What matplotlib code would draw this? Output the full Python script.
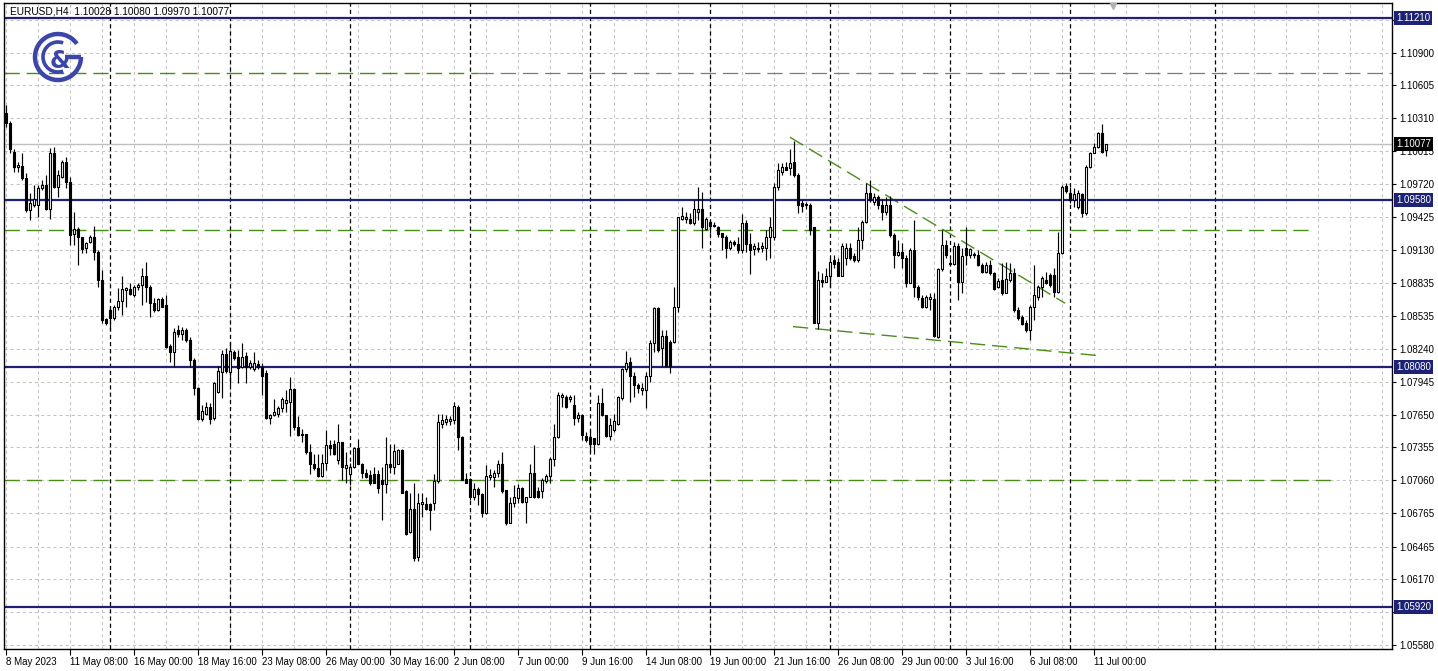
import matplotlib
matplotlib.use("Agg")
import matplotlib.pyplot as plt
from matplotlib.patches import Rectangle, Arc
from matplotlib.collections import LineCollection, PatchCollection
import matplotlib.transforms as mtransforms

plt.rcParams['lines.scale_dashes'] = False
plt.rcParams['font.family'] = ['Liberation Sans', 'DejaVu Sans']

symbol = "EURUSD,H4"
header_values = "1.10028 1.10080 1.09970 1.10077"

opens = [
    1.1036, 1.1027, 1.1001, 1.0987, 1.0988, 1.0977, 1.0949, 1.0953, 1.0953, 1.0968,
    1.0971, 1.0950, 1.1000, 1.0969, 1.0978, 1.0992, 1.0974, 1.0927, 1.0932, 1.0924,
    1.0915, 1.0920, 1.0924, 1.0911, 1.0886, 1.0851, 1.0859, 1.0852, 1.0862, 1.0867,
    1.0877, 1.0878, 1.0872, 1.0880, 1.0881, 1.0889, 1.0880, 1.0865, 1.0859, 1.0869,
    1.0863, 1.0827, 1.0821, 1.0841, 1.0837, 1.0841, 1.0832, 1.0814, 1.0789, 1.0761,
    1.0766, 1.0772, 1.0762, 1.0785, 1.0803, 1.0819, 1.0803, 1.0821, 1.0817, 1.0808,
    1.0818, 1.0808, 1.0806, 1.0810, 1.0808, 1.0802, 1.0762, 1.0765, 1.0766, 1.0771,
    1.0775, 1.0776, 1.0788, 1.0754, 1.0748, 1.0748, 1.0731, 1.0721, 1.0717, 1.0710,
    1.0722, 1.0738, 1.0739, 1.0724, 1.0740, 1.0717, 1.0712, 1.0718, 1.0735, 1.0721,
    1.0713, 1.0711, 1.0712, 1.0712, 1.0706, 1.0703, 1.0721, 1.0718, 1.0721, 1.0733,
    1.0696, 1.0660, 1.0680, 1.0637, 1.0685, 1.0685, 1.0685, 1.0686, 1.0705, 1.0757,
    1.0758, 1.0759, 1.0760, 1.0772, 1.0745, 1.0707, 1.0707, 1.0691, 1.0698, 1.0694,
    1.0677, 1.0709, 1.0709, 1.0713, 1.0721, 1.0697, 1.0668, 1.0686, 1.0690, 1.0699,
    1.0687, 1.0691, 1.0713, 1.0696, 1.0696, 1.0705, 1.0710, 1.0725, 1.0745, 1.0781,
    1.0781, 1.0779, 1.0774, 1.0762, 1.0765, 1.0746, 1.0745, 1.0744, 1.0739, 1.0775,
    1.0765, 1.0746, 1.0751, 1.0757, 1.0780, 1.0806, 1.0812, 1.0800, 1.0792, 1.0787,
    1.0787, 1.0800, 1.0829, 1.0861, 1.0825, 1.0836, 1.0830, 1.0830, 1.0862, 1.0941,
    1.0941, 1.0941, 1.0937, 1.0947, 1.0950, 1.0932, 1.0938, 1.0935, 1.0933, 1.0928,
    1.0924, 1.0915, 1.0920, 1.0918, 1.0913, 1.0937, 1.0918, 1.0914, 1.0914, 1.0915,
    1.0915, 1.0924, 1.0924, 1.0969, 1.0983, 1.0987, 1.0986, 1.0992, 1.0980, 1.0955,
    1.0954, 1.0953, 1.0933, 1.0847, 1.0886, 1.0884, 1.0889, 1.0904, 1.0902, 1.0889,
    1.0906, 1.0915, 1.0907, 1.0904, 1.0922, 1.0938, 1.0964, 1.0956, 1.0960, 1.0953,
    1.0947, 1.0953, 1.0926, 1.0908, 1.0911, 1.0906, 1.0883, 1.0913, 1.0880, 1.0870,
    1.0862, 1.0869, 1.0869, 1.0835, 1.0896, 1.0917, 1.0901, 1.0900, 1.0916, 1.0884,
    1.0915, 1.0908, 1.0909, 1.0908, 1.0899, 1.0893, 1.0899, 1.0892, 1.0880, 1.0886,
    1.0874, 1.0886, 1.0892, 1.0859, 1.0853, 1.0847, 1.0841, 1.0862, 1.0871, 1.0880,
    1.0886, 1.0890, 1.0890, 1.0875, 1.0910, 1.0970, 1.0964, 1.0958, 1.0951, 1.0963,
    1.0946, 1.0987, 1.1000, 1.1005, 1.1018, 1.10028,
]
highs = [
    1.1043, 1.1029, 1.1003, 1.0992, 1.1000, 1.0982, 1.0964, 1.0971, 1.0971, 1.0976,
    1.0980, 1.1004, 1.1005, 1.0985, 1.0994, 1.0996, 1.0978, 1.0947, 1.0933, 1.0924,
    1.0920, 1.0926, 1.0934, 1.0913, 1.0895, 1.0852, 1.0861, 1.0863, 1.0879, 1.0889,
    1.0880, 1.0883, 1.0881, 1.0883, 1.0897, 1.0902, 1.0881, 1.0870, 1.0870, 1.0871,
    1.0872, 1.0828, 1.0843, 1.0845, 1.0844, 1.0843, 1.0835, 1.0816, 1.0790, 1.0774,
    1.0776, 1.0775, 1.0794, 1.0809, 1.0823, 1.0825, 1.0830, 1.0823, 1.0823, 1.0829,
    1.0821, 1.0814, 1.0821, 1.0814, 1.0811, 1.0805, 1.0766, 1.0779, 1.0773, 1.0781,
    1.0787, 1.0799, 1.0789, 1.0764, 1.0752, 1.0748, 1.0739, 1.0730, 1.0730, 1.0730,
    1.0751, 1.0742, 1.0742, 1.0757, 1.0740, 1.0731, 1.0722, 1.0736, 1.0743, 1.0722,
    1.0716, 1.0715, 1.0718, 1.0715, 1.0718, 1.0745, 1.0739, 1.0739, 1.0734, 1.0734,
    1.0697, 1.0695, 1.0704, 1.0695, 1.0695, 1.0691, 1.0686, 1.0712, 1.0766, 1.0766,
    1.0765, 1.0764, 1.0776, 1.0774, 1.0746, 1.0713, 1.0708, 1.0704, 1.0700, 1.0695,
    1.0720, 1.0716, 1.0715, 1.0724, 1.0731, 1.0697, 1.0691, 1.0702, 1.0703, 1.0700,
    1.0691, 1.0721, 1.0738, 1.0700, 1.0708, 1.0712, 1.0727, 1.0757, 1.0785, 1.0784,
    1.0783, 1.0783, 1.0783, 1.0767, 1.0766, 1.0749, 1.0751, 1.0744, 1.0783, 1.0789,
    1.0765, 1.0762, 1.0766, 1.0782, 1.0807, 1.0822, 1.0817, 1.0803, 1.0793, 1.0793,
    1.0803, 1.0832, 1.0862, 1.0862, 1.0841, 1.0841, 1.0832, 1.0880, 1.0942, 1.0951,
    1.0947, 1.0946, 1.0958, 1.0969, 1.0965, 1.0942, 1.0940, 1.0938, 1.0934, 1.0928,
    1.0926, 1.0922, 1.0922, 1.0924, 1.0945, 1.0940, 1.0928, 1.0919, 1.0920, 1.0920,
    1.0931, 1.0942, 1.0973, 1.0991, 1.0991, 1.0992, 1.1003, 1.1011, 1.0982, 1.0958,
    1.0956, 1.0955, 1.0933, 1.0894, 1.0892, 1.0897, 1.0906, 1.0908, 1.0906, 1.0919,
    1.0919, 1.0919, 1.0910, 1.0933, 1.0940, 1.0973, 1.0976, 1.0964, 1.0962, 1.0959,
    1.0960, 1.0961, 1.0928, 1.0922, 1.0919, 1.0908, 1.0915, 1.0940, 1.0881, 1.0872,
    1.0872, 1.0874, 1.0874, 1.0897, 1.0931, 1.0922, 1.0905, 1.0920, 1.0919, 1.0915,
    1.0933, 1.0915, 1.0911, 1.0913, 1.0901, 1.0902, 1.0904, 1.0893, 1.0888, 1.0901,
    1.0902, 1.0901, 1.0897, 1.0862, 1.0854, 1.0850, 1.0863, 1.0899, 1.0881, 1.0889,
    1.0893, 1.0892, 1.0897, 1.0929, 1.0971, 1.0973, 1.0969, 1.0968, 1.0967, 1.0964,
    1.0989, 1.1001, 1.1009, 1.1019, 1.1026, 1.10080,
]
lows = [
    1.1023, 1.1000, 1.0983, 1.0983, 1.0976, 1.0947, 1.0940, 1.0951, 1.0942, 1.0967,
    1.0949, 1.0941, 1.0968, 1.0960, 1.0977, 1.0968, 1.0917, 1.0917, 1.0899, 1.0910,
    1.0910, 1.0919, 1.0904, 1.0880, 1.0847, 1.0845, 1.0841, 1.0850, 1.0859, 1.0854,
    1.0862, 1.0872, 1.0871, 1.0877, 1.0863, 1.0866, 1.0853, 1.0857, 1.0858, 1.0862,
    1.0825, 1.0812, 1.0808, 1.0835, 1.0832, 1.0830, 1.0808, 1.0783, 1.0760, 1.0759,
    1.0765, 1.0757, 1.0760, 1.0784, 1.0780, 1.0802, 1.0792, 1.0814, 1.0793, 1.0807,
    1.0793, 1.0806, 1.0804, 1.0806, 1.0783, 1.0761, 1.0757, 1.0764, 1.0763, 1.0767,
    1.0767, 1.0746, 1.0751, 1.0746, 1.0740, 1.0730, 1.0712, 1.0715, 1.0709, 1.0709,
    1.0715, 1.0729, 1.0729, 1.0721, 1.0706, 1.0704, 1.0702, 1.0717, 1.0721, 1.0708,
    1.0708, 1.0702, 1.0704, 1.0695, 1.0670, 1.0695, 1.0713, 1.0712, 1.0721, 1.0695,
    1.0657, 1.0659, 1.0634, 1.0634, 1.0673, 1.0679, 1.0661, 1.0679, 1.0704, 1.0753,
    1.0756, 1.0756, 1.0757, 1.0733, 1.0706, 1.0704, 1.0688, 1.0688, 1.0684, 1.0673,
    1.0676, 1.0706, 1.0700, 1.0709, 1.0695, 1.0666, 1.0668, 1.0682, 1.0686, 1.0686,
    1.0668, 1.0691, 1.0690, 1.0690, 1.0690, 1.0704, 1.0704, 1.0719, 1.0744, 1.0772,
    1.0771, 1.0776, 1.0756, 1.0758, 1.0742, 1.0740, 1.0731, 1.0730, 1.0738, 1.0764,
    1.0745, 1.0742, 1.0749, 1.0756, 1.0778, 1.0803, 1.0776, 1.0781, 1.0784, 1.0783,
    1.0771, 1.0794, 1.0821, 1.0821, 1.0808, 1.0808, 1.0802, 1.0829, 1.0857, 1.0940,
    1.0937, 1.0936, 1.0935, 1.0940, 1.0915, 1.0931, 1.0928, 1.0933, 1.0924, 1.0913,
    1.0906, 1.0913, 1.0916, 1.0910, 1.0910, 1.0911, 1.0891, 1.0908, 1.0911, 1.0911,
    1.0904, 1.0906, 1.0922, 1.0967, 1.0980, 1.0985, 1.0980, 1.0978, 1.0946, 1.0947,
    1.0950, 1.0926, 1.0847, 1.0842, 1.0880, 1.0884, 1.0880, 1.0897, 1.0889, 1.0889,
    1.0899, 1.0904, 1.0902, 1.0902, 1.0914, 1.0937, 1.0956, 1.0953, 1.0950, 1.0940,
    1.0944, 1.0924, 1.0897, 1.0907, 1.0897, 1.0880, 1.0883, 1.0871, 1.0868, 1.0861,
    1.0861, 1.0859, 1.0835, 1.0834, 1.0894, 1.0906, 1.0899, 1.0899, 1.0868, 1.0874,
    1.0899, 1.0906, 1.0906, 1.0898, 1.0892, 1.0892, 1.0890, 1.0877, 1.0879, 1.0872,
    1.0874, 1.0884, 1.0857, 1.0850, 1.0845, 1.0839, 1.0832, 1.0850, 1.0868, 1.0871,
    1.0882, 1.0880, 1.0871, 1.0874, 1.0909, 1.0964, 1.0955, 1.0951, 1.0950, 1.0942,
    1.0944, 1.0986, 1.1000, 1.1004, 1.1000, 1.09970,
]
closes = [
    1.1027, 1.1003, 1.0987, 1.0989, 1.0977, 1.0949, 1.0955, 1.0959, 1.0968, 1.0971,
    1.0950, 1.1000, 1.0969, 1.0980, 1.0992, 1.0974, 1.0926, 1.0932, 1.0924, 1.0914,
    1.0919, 1.0924, 1.0911, 1.0886, 1.0850, 1.0847, 1.0852, 1.0862, 1.0867, 1.0878,
    1.0879, 1.0873, 1.0880, 1.0881, 1.0889, 1.0880, 1.0865, 1.0859, 1.0869, 1.0862,
    1.0826, 1.0821, 1.0839, 1.0837, 1.0841, 1.0832, 1.0814, 1.0789, 1.0761, 1.0768,
    1.0772, 1.0761, 1.0793, 1.0804, 1.0819, 1.0804, 1.0822, 1.0816, 1.0807, 1.0817,
    1.0808, 1.0811, 1.0811, 1.0808, 1.0800, 1.0762, 1.0765, 1.0767, 1.0771, 1.0779,
    1.0778, 1.0788, 1.0754, 1.0747, 1.0747, 1.0731, 1.0721, 1.0717, 1.0710, 1.0722,
    1.0738, 1.0735, 1.0730, 1.0740, 1.0718, 1.0720, 1.0718, 1.0735, 1.0721, 1.0713,
    1.0709, 1.0704, 1.0704, 1.0699, 1.0703, 1.0721, 1.0718, 1.0732, 1.0733, 1.0695,
    1.0658, 1.0680, 1.0636, 1.0686, 1.0687, 1.0680, 1.0679, 1.0705, 1.0758, 1.0760,
    1.0761, 1.0761, 1.0773, 1.0745, 1.0706, 1.0704, 1.0691, 1.0698, 1.0694, 1.0677,
    1.0710, 1.0711, 1.0713, 1.0721, 1.0696, 1.0668, 1.0686, 1.0691, 1.0699, 1.0687,
    1.0691, 1.0713, 1.0691, 1.0691, 1.0706, 1.0710, 1.0725, 1.0745, 1.0783, 1.0783,
    1.0772, 1.0781, 1.0762, 1.0765, 1.0747, 1.0742, 1.0739, 1.0739, 1.0775, 1.0765,
    1.0746, 1.0756, 1.0759, 1.0781, 1.0806, 1.0811, 1.0800, 1.0792, 1.0789, 1.0789,
    1.0800, 1.0829, 1.0861, 1.0823, 1.0836, 1.0809, 1.0809, 1.0862, 1.0942, 1.0943,
    1.0942, 1.0937, 1.0950, 1.0950, 1.0933, 1.0941, 1.0934, 1.0934, 1.0927, 1.0924,
    1.0915, 1.0920, 1.0918, 1.0913, 1.0937, 1.0918, 1.0913, 1.0916, 1.0915, 1.0916,
    1.0924, 1.0933, 1.0969, 1.0985, 1.0987, 1.0985, 1.0991, 1.0980, 1.0953, 1.0952,
    1.0953, 1.0931, 1.0847, 1.0886, 1.0884, 1.0889, 1.0902, 1.0900, 1.0889, 1.0916,
    1.0915, 1.0906, 1.0904, 1.0922, 1.0938, 1.0964, 1.0958, 1.0960, 1.0953, 1.0947,
    1.0953, 1.0926, 1.0908, 1.0911, 1.0906, 1.0883, 1.0913, 1.0880, 1.0871, 1.0862,
    1.0871, 1.0871, 1.0836, 1.0896, 1.0917, 1.0908, 1.0900, 1.0916, 1.0884, 1.0907,
    1.0908, 1.0914, 1.0908, 1.0899, 1.0893, 1.0899, 1.0892, 1.0878, 1.0885, 1.0874,
    1.0887, 1.0892, 1.0859, 1.0852, 1.0846, 1.0841, 1.0862, 1.0872, 1.0880, 1.0888,
    1.0883, 1.0881, 1.0875, 1.0910, 1.0969, 1.0966, 1.0958, 1.0963, 1.0964, 1.0946,
    1.0987, 1.1000, 1.1005, 1.1018, 1.1001, 1.10077,
]

price_ticks = [1.05580, 1.05875, 1.06170, 1.06465, 1.06765, 1.07060, 1.07355,
               1.07650, 1.07945, 1.08240, 1.08535, 1.08835, 1.09130, 1.09425,
               1.09720, 1.10015, 1.10310, 1.10605, 1.10900, 1.11195]
hidden_tick_labels = [1.05875, 1.11195]
time_tick_bars = [0, 16, 32, 48, 64, 80, 96, 112, 128, 144, 160, 176, 192, 208,
                  224, 240, 256, 272]
time_tick_labels = ["8 May 2023", "11 May 08:00", "16 May 00:00", "18 May 16:00",
                    "23 May 08:00", "26 May 00:00", "30 May 16:00", "2 Jun 08:00",
                    "7 Jun 00:00", "9 Jun 16:00", "14 Jun 08:00", "19 Jun 00:00",
                    "21 Jun 16:00", "26 Jun 08:00", "29 Jun 00:00", "3 Jul 16:00",
                    "6 Jul 08:00", "11 Jul 00:00"]
week_start_bars = [26, 56, 86, 116, 146, 176, 206, 236, 266]
extra_vline_bar = 302.25
level_lines = [1.11210, 1.09580, 1.08080, 1.05920]
level_labels = ["1.11210", "1.09580", "1.08080", "1.05920"]
current_price = 1.10077
dashed_levels = [1.1072, 1.0931, 1.0706]
green_level_spans = [(-0.5, 118.0), (-0.5, 326.0), (-0.5, 332.25)]
gray_tail = [True, False, False]
trend_upper = ([196.0, 264.75], [1.1014, 1.0865])
trend_lower = ([196.75, 273.0], [1.0844, 1.0818])

W, H = 1438, 671
fig = plt.figure(figsize=(W / 100, H / 100), dpi=100)
fig.patch.set_facecolor('white')
ax = fig.add_axes([4 / W, 1 - 649 / H, (1392 - 4) / W, (649 - 3) / H])
ax.set_xlim(-0.5, 346.5)
ax.set_ylim(1.05546, 1.11345)
ax.set_facecolor('white')

navy = '#1d2275'
green = '#4a8c1a'
grid_c = '#c3c3c3'

for p in price_ticks:
    ax.axhline(p, color=grid_c, lw=0.75, ls=(0, (2.2, 2.2)), zorder=1)
for b in range(0, 347, 8):
    ax.axvline(b, color=grid_c, lw=0.75, ls=(0, (2.2, 2.2)), zorder=1)
for b in week_start_bars + [extra_vline_bar]:
    ax.axvline(b, color='black', lw=0.9, ls=(0, (3.0, 2.2)), zorder=2)

ax.axhline(current_price, color='#c0c0c0', lw=1.0, zorder=1.5)

for lvl, (x0, x1), tail in zip(dashed_levels, green_level_spans, gray_tail):
    if tail:
        ax.plot([x1, 346.5], [lvl, lvl], color='#7a7a7a', lw=0.9,
                ls=(0, (11, 5)), zorder=2)
    ax.plot([x0, x1], [lvl, lvl], color=green, lw=1.0,
            ls=(0, (11, 5)), zorder=2.1)

ax.plot(*trend_upper, color=green, lw=1.0, ls=(0, (11, 5)), zorder=2.2)
ax.plot(*trend_lower, color=green, lw=1.0, ls=(0, (11, 5)), zorder=2.2)

for lvl in level_lines:
    ax.axhline(lvl, color=navy, lw=1.6, zorder=2.5)

n = min(len(opens), len(highs), len(lows), len(closes))
wicks = []
bodies = []
fcs = []
bw = 0.55
for i in range(n):
    o, h, l, c = opens[i], highs[i], lows[i], closes[i]
    h = max(h, o, c)
    l = min(l, o, c)
    wicks.append([(i, l), (i, h)])
    lo, hi = min(o, c), max(o, c)
    if hi - lo < 0.00004:
        mid = (hi + lo) / 2
        lo, hi = mid - 0.00002, mid + 0.00002
    bodies.append(Rectangle((i - bw / 2, lo), bw, hi - lo))
    fcs.append('white' if c >= o else 'black')
ax.add_collection(LineCollection(wicks, colors='black', linewidths=0.85, zorder=3))
ax.add_collection(PatchCollection(bodies, facecolors=fcs, edgecolors='black',
                                  linewidths=0.8, zorder=4))

for s in ax.spines.values():
    s.set_color('black')
    s.set_linewidth(1.0)
ax.yaxis.tick_right()
ax.set_yticks(price_ticks)
ax.set_yticklabels(["" if p in hidden_tick_labels else f"{p:.5f}" for p in price_ticks])
ax.tick_params(axis='y', length=3, width=0.8, pad=2, labelsize=7, colors='black')
ax.set_xticks(time_tick_bars)
ax.set_xticklabels(time_tick_labels)
ax.tick_params(axis='x', length=4, width=0.8, pad=2, labelsize=7)
for t in ax.get_xticklabels():
    t.set_ha('left')

trans = mtransforms.blended_transform_factory(ax.transAxes, ax.transData)
for lvl, lab in zip(level_lines, level_labels):
    ax.text(1 + 4 / 1388, lvl, lab, transform=trans, ha='left', va='center',
            fontsize=7, color='white', clip_on=False, zorder=10,
            bbox=dict(boxstyle='square,pad=0.2', fc=navy, ec='none'))
ax.text(1 + 4 / 1388, current_price, f"{current_price:.5f}", transform=trans,
        ha='left', va='center', fontsize=7, color='white', clip_on=False,
        zorder=11, bbox=dict(boxstyle='square,pad=0.2', fc='black', ec='none'))

ax.plot([276.75], [1.11345 - 0.00025], marker='v', color='#b0b0b0',
        markersize=5, clip_on=False, zorder=5)

fig.text(10 / W, 1 - 12 / H, f"{symbol}  {header_values}", fontsize=7.3,
         ha='left', va='center', color='black')

lax = fig.add_axes([32 / W, 1 - 84 / H, 54 / W, 54 / H])
lax.set_xlim(0, 54)
lax.set_ylim(0, 54)
lax.axis('off')
logo_c = '#3b46a8'
lax.add_patch(Arc((26, 27), 46, 46, theta1=35, theta2=360, lw=3.2, color=logo_c))
lax.plot([33, 49], [27, 27], color=logo_c, lw=3.2, solid_capstyle='butt')
lax.add_patch(Arc((26, 27), 30, 30, theta1=70, theta2=290, lw=2.6, color=logo_c))
lax.text(28, 23, "&", fontsize=17, fontweight='bold', color=logo_c,
         family='DejaVu Sans', ha='center', va='center')

fig.savefig("out.png", dpi=100, facecolor='white')
